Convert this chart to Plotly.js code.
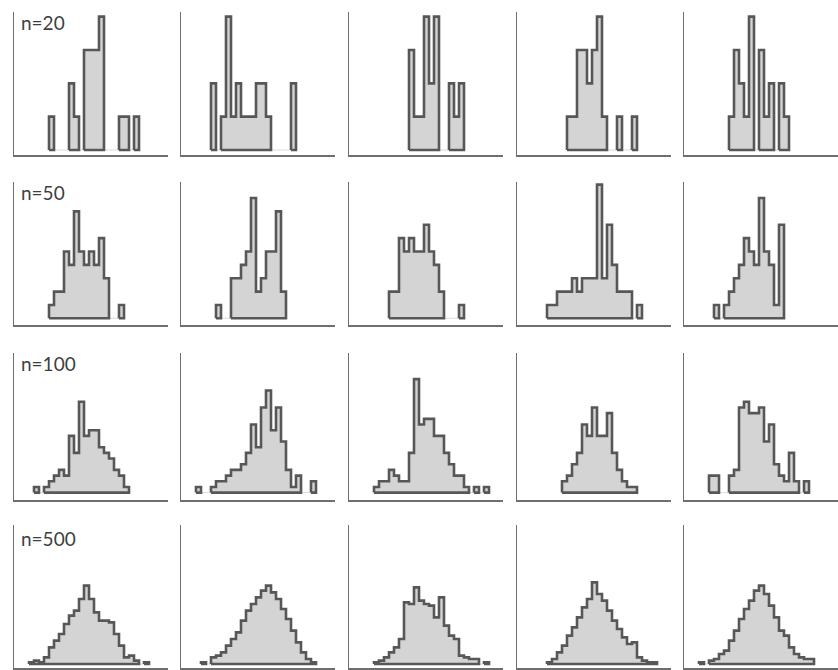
<!DOCTYPE html>
<html><head><meta charset="utf-8">
<script src="https://cdn.plot.ly/plotly-3.0.1.min.js"></script>
<style>html,body{margin:0;padding:0;background:#fff}#chart{width:838px;height:670px}</style>
</head><body><div id="chart"></div>
<script>
// Row labels (sample size per row)
const rowLabels = ["n=20", "n=50", "n=100", "n=500"];

// Index of the first bin of each panel (bins are of equal width, common grid)
const n20_start  = [7, 6, 12, 10, 9];
const n50_start  = [7, 7, 8, 6, 6];
const n100_start = [4, 3, 5, 9, 5];
const n500_start = [3, 4, 5, 6, 3];

// Counts per consecutive bin, panel by panel
const n20_p1 = [1,0,0,0,2,1,0,3,3,3,4,0,0,0,1,1,0,1];
const n20_p2 = [2,0,1,4,1,2,1,1,1,2,2,1,0,0,0,0,2];
const n20_p3 = [3,1,1,4,2,4,0,0,2,1,2];
const n20_p4 = [1,1,3,3,2,3,4,1,0,0,1,0,0,1];
const n20_p5 = [1,3,2,1,4,0,3,1,2,0,2,1];

const n50_p1 = [1,2,2,5,4,8,5,4,5,4,6,3,0,0,1];
const n50_p2 = [1,0,0,3,3,4,5,9,2,3,5,5,8,2];
const n50_p3 = [2,2,6,5,6,5,5,7,5,4,2,0,0,0,1];
const n50_p4 = [1,1,2,2,2,3,2,3,3,3,10,3,7,4,2,2,2,0,1];
const n50_p5 = [1,0,1,2,3,4,6,5,4,9,5,4,1,7];

const n100_p1 = [1,0,1,2,3,4,3,10,7,16,10,11,11,8,7,6,4,3,1];
const n100_p2 = [1,0,0,1,2,2,3,4,4,5,7,12,8,15,18,11,15,9,4,1,3,0,0,2];
const n100_p3 = [1,2,2,4,3,2,2,7,20,12,13,13,10,10,7,5,3,3,1,0,1,0,1];
const n100_p4 = [2,3,5,7,12,10,15,10,10,14,7,4,2,1,1];
const n100_p5 = [3,3,0,0,3,4,15,16,14,14,15,9,12,5,3,2,7,2,0,2];

const n500_p1 = [1,2,1,4,10,14,18,24,29,32,39,47,39,31,26,26,25,18,11,4,5,2,0,1];
const n500_p2 = [1,0,4,5,7,11,15,19,26,32,36,40,44,47,43,39,33,27,20,13,7,3,1];
const n500_p3 = [1,2,4,7,10,15,37,36,46,38,36,35,28,40,23,17,15,5,4,3,3,0,1];
const n500_p4 = [1,3,7,11,17,22,28,34,39,49,42,38,32,26,21,16,12,13,4,2,1,1];
const n500_p5 = [1,0,2,3,6,8,14,20,27,33,38,44,47,42,35,28,20,17,10,6,4,3,3];

const rows = [
  {start: n20_start,  panels: [n20_p1, n20_p2, n20_p3, n20_p4, n20_p5]},
  {start: n50_start,  panels: [n50_p1, n50_p2, n50_p3, n50_p4, n50_p5]},
  {start: n100_start, panels: [n100_p1, n100_p2, n100_p3, n100_p4, n100_p5]},
  {start: n500_start, panels: [n500_p1, n500_p2, n500_p3, n500_p4, n500_p5]}
];

// ---- geometry / style ----
const W = 838, H = 670;
const colX = [14, 181, 349, 517, 684];
const panelW = 154;
const rowTop = [12, 182, 353, 525];
const rowBot = [155, 325, 500, 668];
const yRanges = [[-0.15, 4.14], [-0.5, 10.2], [-1.3, 24.6], [-2.4, 83.4]];
const labelY = [23, 193, 364, 538];
const fillCol = '#d4d4d4', edgeCol = '#575757', axisCol = '#6e6e6e';

function outline(start, counts) {
  const xs = [], ys = [];
  let i = 0;
  while (i < counts.length) {
    if (counts[i] === 0) { i++; continue; }
    let j = i;
    while (j < counts.length && counts[j] > 0) j++;
    xs.push(start + i); ys.push(0);
    for (let k = i; k < j; k++) { xs.push(start + k); ys.push(counts[k]); }
    xs.push(start + j); ys.push(0);
    xs.push(start + i); ys.push(0);
    xs.push(null); ys.push(null);
    i = j;
  }
  return {xs, ys};
}

const data = [];
const layout = {
  width: W, height: H,
  margin: {l: 0, r: 0, t: 0, b: 0},
  paper_bgcolor: '#ffffff', plot_bgcolor: 'rgba(0,0,0,0)',
  showlegend: false, bargap: 0,
  annotations: []
};

rows.forEach((row, r) => {
  row.panels.forEach((counts, c) => {
    const idx = r * 5 + c + 1;
    const xs = idx === 1 ? 'x' : 'x' + idx;
    const ys = idx === 1 ? 'y' : 'y' + idx;
    const st = row.start[c];
    data.push({
      type: 'bar', xaxis: xs, yaxis: ys,
      x: counts.map((v, i) => st + i + 0.5), y: counts, width: 1,
      marker: {color: fillCol, line: {color: fillCol, width: 0.5}},
      hoverinfo: 'skip'
    });
    const o = outline(st, counts);
    data.push({
      type: 'scatter', mode: 'lines', xaxis: xs, yaxis: ys,
      x: o.xs, y: o.ys, connectgaps: false,
      line: {color: edgeCol, width: 2.6, shape: 'hv'},
      hoverinfo: 'skip'
    });
    const xa = idx === 1 ? 'xaxis' : 'xaxis' + idx;
    const ya = idx === 1 ? 'yaxis' : 'yaxis' + idx;
    layout[xa] = {
      domain: [colX[c] / W, Math.min(1, (colX[c] + panelW) / W)],
      range: [0, 30.8], anchor: ys,
      showline: true, linecolor: axisCol, linewidth: 1.5,
      showticklabels: false, ticks: '', showgrid: false, zeroline: false, fixedrange: true
    };
    layout[ya] = {
      domain: [1 - rowBot[r] / H, 1 - rowTop[r] / H],
      range: yRanges[r], anchor: xs,
      showline: true, linecolor: axisCol, linewidth: 1.5,
      showticklabels: false, ticks: '', showgrid: false, zeroline: false, fixedrange: true
    };
  });
  layout.annotations.push({
    xref: 'paper', yref: 'paper', x: 19 / W, y: 1 - labelY[r] / H,
    xanchor: 'left', yanchor: 'middle', showarrow: false,
    text: rowLabels[r],
    font: {family: 'Lato, "Open Sans", sans-serif', size: 19, color: '#3f3f3f'}
  });
});

Plotly.newPlot('chart', data, layout, {displayModeBar: false, staticPlot: true});
</script>
</body></html>
